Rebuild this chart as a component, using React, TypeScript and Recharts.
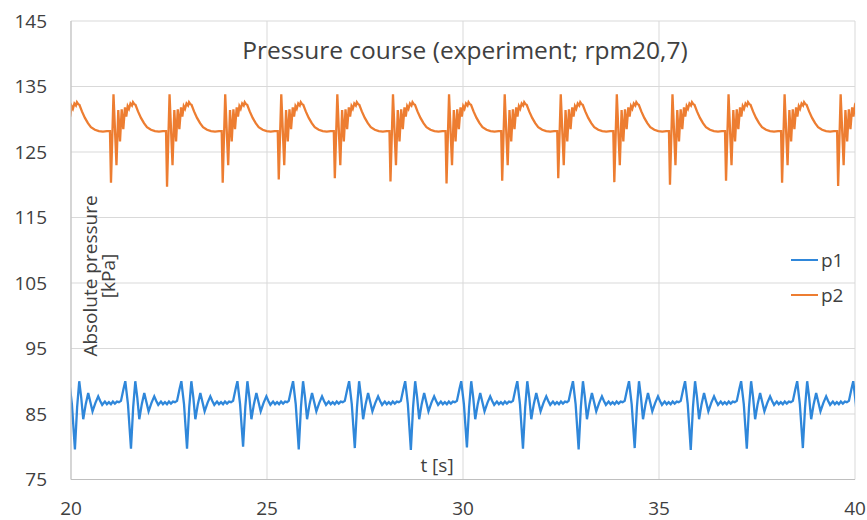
import { LineChart, Line, XAxis, YAxis, CartesianGrid, Legend } from "recharts";

const xTicks = [20, 25, 30, 35, 40];
const yTicks = [75, 85, 95, 105, 115, 125, 135, 145];

// p1: time of each deep dip [s] and how low it goes [kPa]
const p1DipTimes = [18.67, 20.1, 21.53, 22.96, 24.39, 25.81, 27.24, 28.67, 30.1, 31.53, 32.95, 34.38, 35.81, 37.24, 38.67, 40.1];
const p1DipLows = [79.7, 79.6, 79.7, 79.7, 80.0, 79.6, 79.8, 79.5, 79.9, 79.7, 79.6, 79.8, 79.5, 79.7, 79.8, 79.7];
// one p1 cycle: seconds after the dip, kPa (null = the dip itself)
const p1CycleOffsets = [-0.255, -0.191, -0.145, -0.077, 0, 0.056, 0.11, 0.161, 0.212, 0.276, 0.339, 0.395, 0.449, 0.523, 0.594, 0.645, 0.696, 0.765, 0.816, 0.867, 0.918, 0.969, 1.02, 1.071, 1.122];
const p1CycleValues = [87.0, 88.8, 90.0, 86.5, null, 86.0, 90.0, 87.5, 84.2, 86.5, 88.2, 86.8, 85.4, 86.7, 87.7, 87.0, 86.4, 86.9, 86.5, 86.8, 86.5, 86.9, 86.6, 86.9, 86.8];

// p2: time of each sharp drop [s] and its depth [kPa]
const p2DipTimes = [19.59, 21.02, 22.45, 23.87, 25.3, 26.73, 28.15, 29.58, 31.0, 32.43, 33.86, 35.28, 36.71, 38.14, 39.57];
const p2DipLows = [120.3, 120.3, 119.7, 120.3, 120.8, 121.0, 120.5, 120.2, 120.6, 121.0, 120.4, 120.0, 120.6, 120.3, 119.8];
const p2CycleOffsets = [-0.026, 0, 0.064, 0.14, 0.186, 0.23, 0.273, 0.314, 0.357, 0.39, 0.426, 0.459, 0.497, 0.536, 0.561, 0.594, 0.625, 0.689, 0.765, 0.842, 0.918, 1.02, 1.122, 1.224, 1.327];
const p2CycleValues = [128.2, null, 133.8, 123.0, 131.4, 126.6, 131.5, 128.5, 131.8, 130.4, 132.0, 131.6, 132.4, 132.1, 132.6, 132.3, 132.2, 131.2, 130.2, 129.4, 128.8, 128.4, 128.2, 128.1, 128.2];

function buildSeries(times: number[], lows: number[], offsets: number[], values: (number | null)[]) {
  const out: { t: number; v: number }[] = [];
  times.forEach((t0, k) => {
    offsets.forEach((o, i) => {
      out.push({ t: +(t0 + o).toFixed(3), v: values[i] ?? lows[k] });
    });
  });
  return out;
}

const p1Data = buildSeries(p1DipTimes, p1DipLows, p1CycleOffsets, p1CycleValues);
const p2Data = buildSeries(p2DipTimes, p2DipLows, p2CycleOffsets, p2CycleValues);

const FONT = "'Open Sans', 'DejaVu Sans', sans-serif";
const TEXT = "#404040";

const LegendBox = ({ payload }: any) => (
  <div style={{ fontFamily: FONT }}>
    {(payload || []).map((p: any) => (
      <div key={p.value} style={{ display: "flex", alignItems: "center", height: 35 }}>
        <svg width={28} height={4}><line x1={0} y1={2} x2={27} y2={2} stroke={p.color} strokeWidth={2} /></svg>
        <span style={{ fontSize: 19, color: TEXT, marginLeft: 2 }}>{p.value}</span>
      </div>
    ))}
  </div>
);

export default function App() {
  return (
    <div style={{ position: "absolute", left: 0, top: 0, width: 867, height: 520, background: "#fff" }}>
      <LineChart width={867} height={520} margin={{ top: 21, right: 12, bottom: 0, left: 0 }}>
        <CartesianGrid stroke="#d9d9d9" strokeWidth={1} />
        <XAxis dataKey="t" type="number" domain={[20, 40]} ticks={xTicks} allowDataOverflow height={40.5}
          tickSize={0} tickMargin={22} stroke="#bfbfbf" tick={{ fill: TEXT, fontSize: 19, fontFamily: FONT }} />
        <YAxis type="number" domain={[75, 145]} ticks={yTicks} allowDataOverflow width={71}
          tickSize={0} tickMargin={24} stroke="#bfbfbf" tick={{ fill: TEXT, fontSize: 19, fontFamily: FONT }} />
        <Legend layout="vertical" align="center" verticalAlign="middle" content={<LegendBox />}
          wrapperStyle={{ position: "absolute", left: 791, top: 242, width: 70 }} />
        <Line data={p1Data} dataKey="v" name="p1" stroke="#2F87DA" strokeWidth={2.3} dot={false} isAnimationActive={false} />
        <Line data={p2Data} dataKey="v" name="p2" stroke="#ED7D31" strokeWidth={2.3} dot={false} isAnimationActive={false} />
      </LineChart>
      <div style={{ position: "absolute", left: 465, top: 34, transform: "translateX(-50%)", whiteSpace: "nowrap",
        fontFamily: FONT, fontSize: 24.5, color: TEXT, lineHeight: "32px" }}>
        Pressure course (experiment; rpm20,7)
      </div>
      <div style={{ position: "absolute", left: -1, top: 258, width: 200, height: 36, transform: "rotate(-90deg)",
        textAlign: "center", fontFamily: FONT, fontSize: 19, color: TEXT, lineHeight: "18px" }}>
        Absolute pressure<br />[kPa]
      </div>
      <div style={{ position: "absolute", left: 437, top: 453, transform: "translateX(-50%)", whiteSpace: "nowrap",
        fontFamily: FONT, fontSize: 19, color: TEXT, lineHeight: "24px" }}>
        t [s]
      </div>
    </div>
  );
}
